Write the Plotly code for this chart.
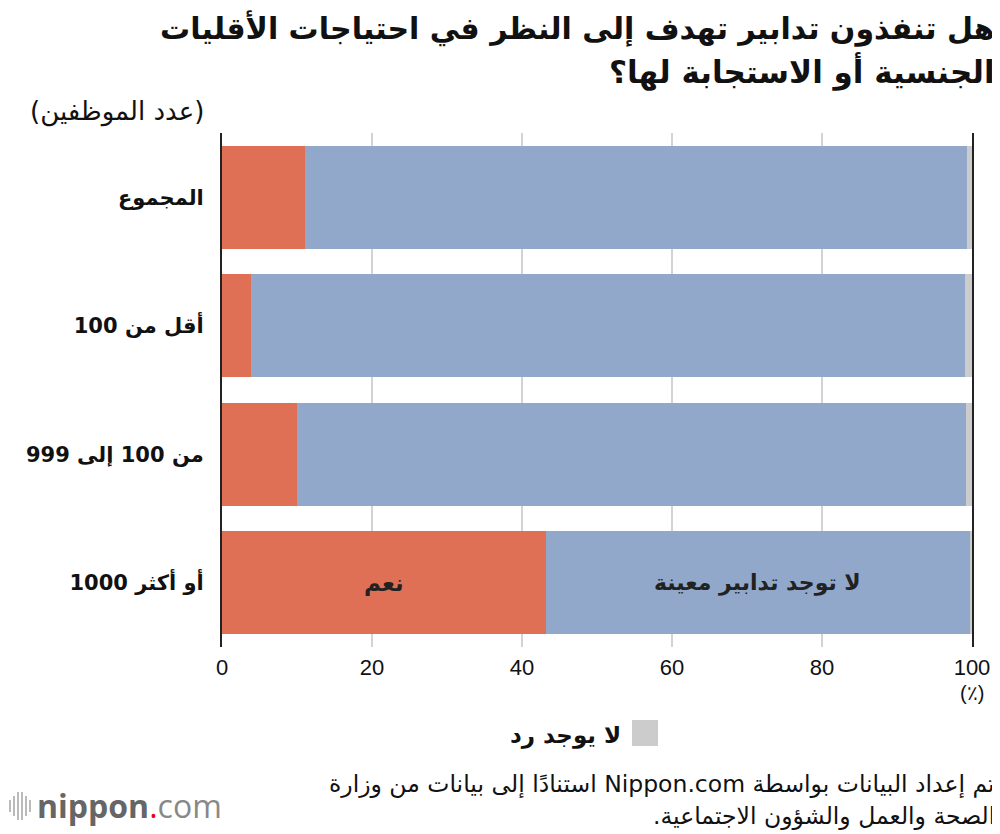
import plotly.graph_objects as go

# data (%)
categories = ['المجموع', 'أقل من 100', 'من 100 إلى 999', '1000 أو أكثر']
yes_vals = [11.1, 3.9, 10.0, 43.2]
no_measures_vals = [88.2, 95.2, 89.2, 56.5]
no_answer_vals = [0.7, 0.9, 0.8, 0.3]
x_ticks = [0, 20, 40, 60, 80, 100]

RED = '#E07055'
BLUE = '#91A8CA'
GRAY = '#CCCCCC'
FONT = 'DejaVu Sans, sans-serif'
NUM_FONT = 'Liberation Sans, Arial, sans-serif'


def rtl(s):
    # force right-to-left display inside the svg text
    return '\u202b' + s + '\u202c'


def ltr(s):
    return '\u202a' + s + '\u202c'


# the last label is shown with the number on the left in the reference
labels = [rtl(c) for c in categories[:-1]] + [ltr(categories[-1])]


def px(sx):
    return (sx - 222) / 750


def py(sy):
    return (647 - sy) / 514


fig = go.Figure()

fig.add_trace(go.Bar(y=labels, x=yes_vals, name='نعم', orientation='h',
                     marker=dict(color=RED, line=dict(width=0))))
fig.add_trace(go.Bar(y=labels, x=no_measures_vals, name='لا توجد تدابير معينة',
                     orientation='h', marker=dict(color=BLUE, line=dict(width=0))))
fig.add_trace(go.Bar(y=labels, x=no_answer_vals, name='لا يوجد رد', orientation='h',
                     marker=dict(color=GRAY, line=dict(width=0))))

# inline labels inside the last bar
last = len(labels) - 1
fig.add_annotation(x=yes_vals[last] / 2, y=labels[last], text='<b>' + rtl('نعم') + '</b>',
                   showarrow=False, font=dict(size=23, color='#222', family=FONT))
fig.add_annotation(x=yes_vals[last] + no_measures_vals[last] / 2, y=labels[last],
                   text='<b>' + rtl('لا توجد تدابير معينة') + '</b>', showarrow=False,
                   font=dict(size=22, color='#222', family=FONT))

# title (two lines) and unit of the categories
fig.add_annotation(xref='paper', yref='paper', x=px(997), y=py(28), xanchor='right',
                   yanchor='middle',
                   text='<b>' + rtl('هل تنفذون تدابير تهدف إلى النظر في احتياجات الأقليات') + '</b>',
                   showarrow=False, font=dict(size=30, color='#111', family=FONT))
fig.add_annotation(xref='paper', yref='paper', x=px(997), y=py(72), xanchor='right',
                   yanchor='middle',
                   text='<b>' + rtl('الجنسية أو الاستجابة لها؟') + '</b>',
                   showarrow=False, font=dict(size=31, color='#111', family=FONT))
fig.add_annotation(xref='paper', yref='paper', x=px(206), y=py(112),
                   xanchor='right', yanchor='middle', text=rtl('(عدد الموظفين)'),
                   showarrow=False, font=dict(size=26, color='#111', family=FONT))

# unit under the 100 tick
fig.add_annotation(x=100, y=py(693), yref='paper', yanchor='middle', text='(٪)',
                   showarrow=False, font=dict(size=20, color='#111', family=NUM_FONT))

# legend for the gray segment (square on the right of the text)
fig.add_shape(type='rect', xref='paper', yref='paper',
              x0=px(632), x1=px(658), y0=py(746), y1=py(720),
              fillcolor=GRAY, line=dict(width=0))
fig.add_annotation(xref='paper', yref='paper', x=px(623), y=py(735),
                   xanchor='right', yanchor='middle', text='<b>' + rtl('لا يوجد رد') + '</b>',
                   showarrow=False, font=dict(size=23, color='#111', family=FONT))

# source
fig.add_annotation(xref='paper', yref='paper', x=px(997), y=py(784),
                   xanchor='right', yanchor='middle',
                   text=rtl('تم إعداد البيانات بواسطة Nippon.com استنادًا إلى بيانات من وزارة'),
                   showarrow=False, font=dict(size=23.5, color='#111', family=FONT))
fig.add_annotation(xref='paper', yref='paper', x=px(997), y=py(816),
                   xanchor='right', yanchor='middle',
                   text=rtl('الصحة والعمل والشؤون الاجتماعية.'),
                   showarrow=False, font=dict(size=23.5, color='#111', family=FONT))

# nippon.com logo
bar_x = [10, 14, 18, 22, 26, 30]
bar_h = [6, 10, 14, 14, 10, 6]
for bx, bh in zip(bar_x, bar_h):
    fig.add_shape(type='line', xref='paper', yref='paper',
                  x0=px(bx), x1=px(bx), y0=py(806 + bh), y1=py(806 - bh),
                  line=dict(color='#bbbbbb', width=2))
fig.add_annotation(xref='paper', yref='paper', x=px(35), y=py(805),
                   xanchor='left', yanchor='middle',
                   text="<b><span style='color:#666'>nippon</span></b>"
                        "<span style='color:#e60012'>.</span>"
                        "<span style='color:#888'>com</span>",
                   showarrow=False, font=dict(size=32, family='Open Sans, sans-serif'))

# the page adds an 8px body margin, so the figure is 8px smaller than the window
fig.update_layout(
    width=992, height=826,
    margin=dict(l=214, r=28, t=125, b=187),
    barmode='stack', bargap=0.2,
    showlegend=False,
    plot_bgcolor='white', paper_bgcolor='white',
    font=dict(family=FONT, color='#111'),
)
fig.update_xaxes(range=[0, 100], tickvals=x_ticks, showgrid=True, gridcolor='#d3d3d3',
                 gridwidth=2, zeroline=False, showline=False, ticks='',
                 automargin=False, ticklabelstandoff=5,
                 tickfont=dict(size=22, color='#111', family=NUM_FONT))
fig.update_yaxes(categoryorder='array', categoryarray=labels, autorange='reversed',
                 showline=True, mirror=True, linecolor='#222', linewidth=2,
                 showgrid=False, ticks='', ticklabelstandoff=12, automargin=False,
                 tickfont=dict(size=21, color='#111', family=FONT, weight='bold'))

fig.write_html('out.html')
